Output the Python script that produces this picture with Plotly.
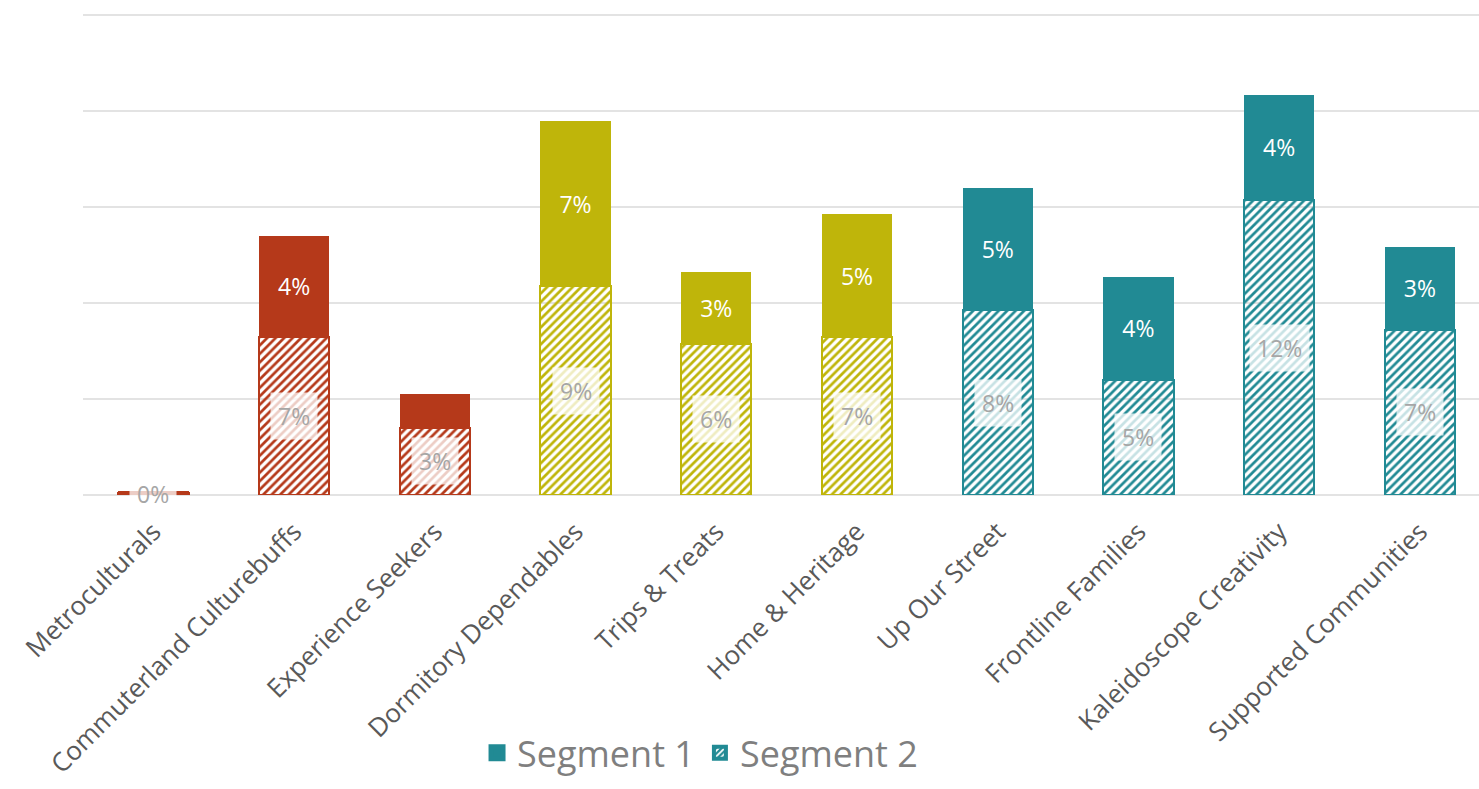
import plotly.graph_objects as go

categories = ["Metroculturals", "Commuterland Culturebuffs", "Experience Seekers",
              "Dormitory Dependables", "Trips & Treats", "Home & Heritage",
              "Up Our Street", "Frontline Families", "Kaleidoscope Creativity",
              "Supported Communities"]
segment2 = [0.1, 6.6, 2.8, 8.7, 6.3, 6.6, 7.7, 4.8, 12.3, 6.9]
segment1 = [0.05, 4.2, 1.4, 6.9, 3.0, 5.1, 5.1, 4.3, 4.4, 3.45]
seg1_labels = ["0%", "4%", "", "7%", "3%", "5%", "5%", "4%", "4%", "3%"]
seg2_labels = ["0%", "7%", "3%", "9%", "6%", "7%", "8%", "5%", "12%", "7%"]

RED, OLIVE, TEAL = "#B5391A", "#BFB50A", "#218A94"
bar_colors = [RED, RED, RED, OLIVE, OLIVE, OLIVE, TEAL, TEAL, TEAL, TEAL]
FONT = "Open Sans"

fig = go.Figure()
fig.add_trace(go.Bar(
    x=categories, y=segment2, name="Segment 2", showlegend=False,
    marker=dict(color=bar_colors, line=dict(color=bar_colors, width=2),
                pattern=dict(shape="/", fgcolor="white", bgcolor=bar_colors, fgopacity=1,
                             size=6, solidity=0.45, fillmode="replace")),
    width=0.5,
))
fig.add_trace(go.Bar(
    x=categories, y=segment1, name="Segment 1", showlegend=False,
    marker=dict(color=bar_colors, line=dict(width=0)),
    text=seg1_labels, textposition="inside", insidetextanchor="middle",
    textfont=dict(color="white", size=23, family=FONT),
    textangle=0, width=0.5,
))
# legend entries
fig.add_trace(go.Bar(x=[None], y=[None], name="Segment 1",
                     marker=dict(color=TEAL, line=dict(color=TEAL, width=6))))
fig.add_trace(go.Bar(x=[None], y=[None], name="Segment 2",
                     marker=dict(color=TEAL, line=dict(color=TEAL, width=4),
                                 pattern=dict(shape="/", fgcolor="white", bgcolor=TEAL,
                                              fgopacity=1, size=5, solidity=0.45,
                                              fillmode="replace"))))

for c, v, lab in zip(categories, segment2, seg2_labels):
    fig.add_annotation(x=c, y=v / 2, text=lab, showarrow=False,
                       font=dict(color="#A6A6A6", size=23, family=FONT),
                       bgcolor="rgba(255,255,255,0.75)", borderpad=7)

fig.update_layout(
    barmode="stack", width=1479, height=789,
    margin=dict(l=83, r=0, t=13, b=294, autoexpand=False),
    plot_bgcolor="white", paper_bgcolor="white",
    font=dict(family=FONT, color="#595959"),
    bargap=0.5,
    legend=dict(orientation="h", x=0.442, xanchor="center", y=-0.535, yanchor="middle",
                font=dict(size=36, color="#7F7F7F"), traceorder="normal"),
    xaxis=dict(range=[-0.5, 9.42], tickangle=-45, tickfont=dict(size=26, color="#595959"),
               showline=False, ticks="outside", ticklen=10, tickcolor="rgba(0,0,0,0)",
               automargin=False),
    yaxis=dict(range=[0, 20.1], dtick=4, showticklabels=False, gridcolor="#E3E3E3",
               gridwidth=2, zeroline=True, zerolinecolor="#E3E3E3", zerolinewidth=2,
               automargin=False),
)
fig.write_html("out.html")
